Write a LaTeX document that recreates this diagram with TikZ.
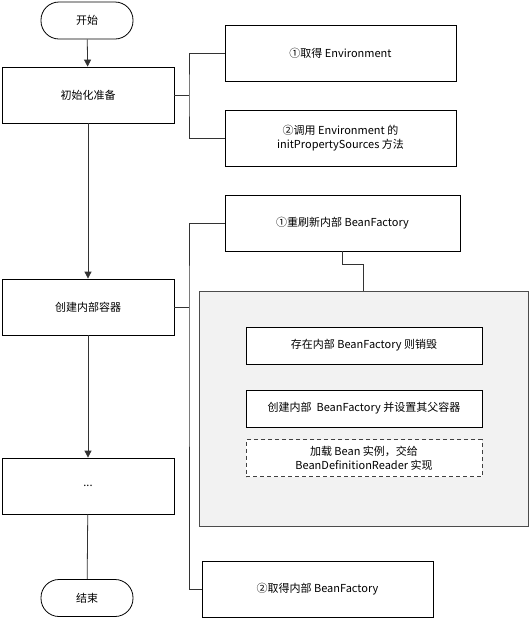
\documentclass[tikz,border=0pt]{standalone}
\usepackage{fontspec}
\setmainfont{Noto Sans CJK SC}
\usetikzlibrary{arrows.meta, positioning, shapes.geometric}

\begin{document}
\begin{tikzpicture}[
    x=1pt, y=-1pt,
    font=\fontsize{11}{14}\selectfont,
    terminal/.style={draw, rounded corners=18pt, minimum width=92pt, minimum height=37pt, line width=0.8pt},
    stepbox/.style={draw, minimum width=172pt, minimum height=56pt, line width=0.8pt},
    subbox/.style={draw, minimum width=231pt, minimum height=56pt, align=center, line width=0.8pt},
    innerbox/.style={draw, fill=white, minimum width=236pt, minimum height=37pt, align=center, line width=0.8pt},
    link/.style={line width=0.8pt, draw=black!80},
    flow/.style={link, -{Triangle[width=7pt, length=7pt]}}
]
    \useasboundingbox (0,0) rectangle (530,619);

    % 主流程
    \node[terminal] (start) at (87, 20.5) {开始};
    \node[stepbox] (init) at (88, 95) {初始化准备};
    \node[stepbox] (create) at (88, 307) {创建内部容器};
    \node[stepbox] (more) at (88, 486) {...};
    \node[terminal] (end) at (87, 598) {结束};

    % 初始化准备的子步骤
    \node[subbox] (getenv) at (340.5, 53) {①取得 Environment};
    \node[subbox] (initprop) at (340.5, 138) {②调用 Environment 的\\initPropertySources 方法};

    % 创建内部容器的子步骤
    \node[subbox, minimum width=235pt] (refresh) at (342.5, 223) {①重刷新内部 BeanFactory};
    \node[draw=black!70, fill=black!5, minimum width=329pt, minimum height=235pt, line width=0.8pt] (panel) at (363.5, 408.5) {};
    \node[innerbox] (destroy) at (364, 345.5) {存在内部 BeanFactory 则销毁};
    \node[innerbox] (newbf) at (364, 408.5) {创建内部\ \ BeanFactory 并设置其父容器};
    \node[innerbox, dash pattern=on 4pt off 3pt, draw=black!75] (loadbean) at (364, 458) {加载 Bean 实例，交给\\BeanDefinitionReader 实现};
    \node[subbox] (getbf) at (317.5, 589.5) {②取得内部 BeanFactory};

    % 连线
    \draw[flow] (start) -- (init);
    \draw[flow] (init) -- (create);
    \draw[flow] (create) -- (more);
    \draw[link] (more) -- (end);

    \draw[link] (init.east) -- (189, 95);
    \draw[link] (getenv.west) -| (189, 95) |- (initprop.west);

    \draw[link] (create.east) -- (189, 307);
    \draw[link] (refresh.west) -| (189, 307) |- (getbf.west);
    \draw[link] (refresh.south) -- ++(0, 13) -| (panel.north);
\end{tikzpicture}
\end{document}
